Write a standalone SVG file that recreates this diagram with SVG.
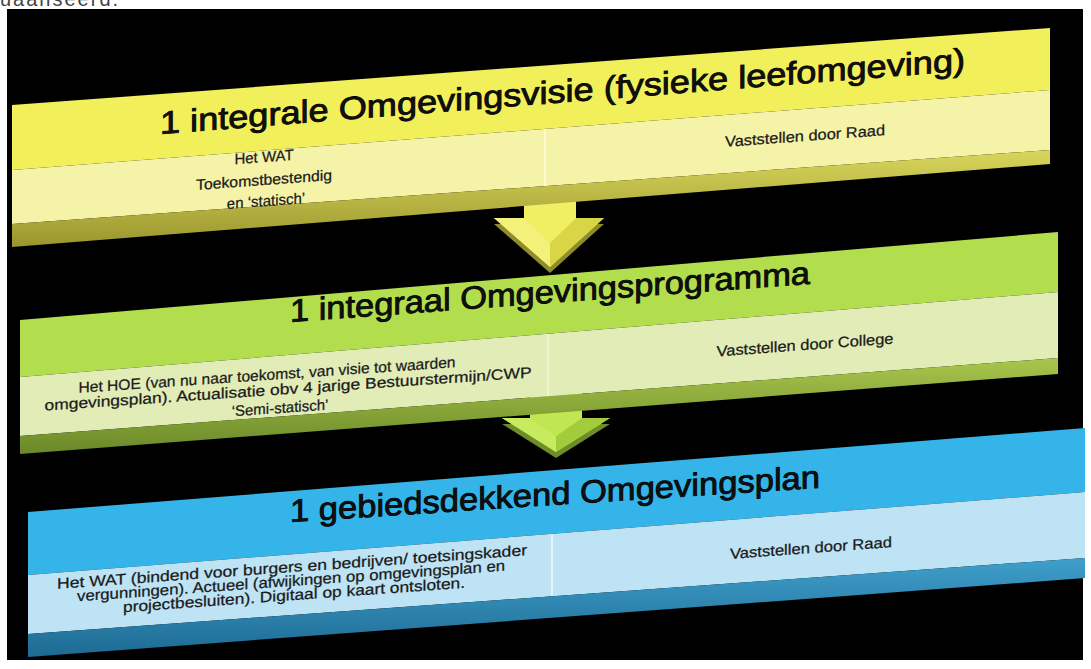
<svg xmlns="http://www.w3.org/2000/svg" width="1091" height="669" viewBox="0 0 1091 669">
  <defs>
    <linearGradient id="gYd" x1="0" y1="0" x2="0" y2="1"><stop offset="0" stop-color="#d9d65c"/><stop offset="1" stop-color="#9a962e"/></linearGradient>
    <linearGradient id="gGd" x1="0" y1="0" x2="0" y2="1"><stop offset="0" stop-color="#a9c64c"/><stop offset="1" stop-color="#6a8828"/></linearGradient>
    <linearGradient id="gBd" x1="0" y1="0" x2="0" y2="1"><stop offset="0" stop-color="#3f9fcb"/><stop offset="1" stop-color="#1d6a92"/></linearGradient>
  </defs>
  <style>
    .t { font-family: "Liberation Sans", Arial, sans-serif; fill: #111; }
    .title { font-size: 32px; stroke: #000; stroke-width: 0.8px; }
    .small { font-size: 15px; text-anchor: middle; fill: #1a1a1a; stroke: #1a1a1a; stroke-width: 0.25px; }
    .div { stroke-width: 2; }
  </style>

  <text x="0" y="6" class="t" style="font-size:20px;letter-spacing:2px;fill:#444">uaanseerd.</text>
  <rect x="7" y="9" width="1076" height="651" fill="#000"/>

  <g id="connectors">
    <g id="arrow1">
      <polygon points="524,198 576,198 576,224 604,224 550,273 494,224 524,224" fill="#8f8c2a"/>
      <polygon points="524,192 576,192 576,218 604,218 550,267 494,218 524,218" fill="#ecea55"/>
      <polygon points="494,218 524,218 550,243 550,267" fill="#f3f17a"/>
      <polygon points="604,218 576,218 550,243 550,267" fill="#d8d646"/>
      <polygon points="524,192 576,192 576,218 550,243 524,218" fill="#f0ee62"/>
    </g>
    <g id="arrow2">
      <polygon points="530,391 582,391 582,424 610,424 556,458 502,424 530,424" fill="#6f8c2a"/>
      <polygon points="530,385 582,385 582,418 610,418 556,452 502,418 530,418" fill="#b6e046"/>
      <polygon points="502,418 530,418 556,436 556,452" fill="#c8ea5e"/>
      <polygon points="610,418 582,418 556,436 556,452" fill="#a2cc3c"/>
      <polygon points="530,385 582,385 582,418 556,436 530,418" fill="#c0e652"/>
    </g>
  </g>

  <g id="slab-visie">
    <polygon points="12,105 1050,28 1050,90 12,170" fill="#f1ef5a"/>
    <polygon points="12,170 1050,90 1050,150 12,224" fill="#f5f3a8"/>
    <polygon points="12,224 1050,150 1050,164 12,247" fill="url(#gYd)"/>
    <line x1="545" y1="129" x2="545" y2="186" stroke="#fbfad0" class="div"/>
    <text class="t title" transform="translate(160,134) skewY(-4.5)" textLength="805" lengthAdjust="spacingAndGlyphs">1 integrale Omgevingsvisie (fysieke leefomgeving)</text>
    <text class="t small" transform="translate(264,162) skewY(-4.2)">Het WAT</text>
    <text class="t small" transform="translate(264,185) skewY(-4.2)" textLength="136" lengthAdjust="spacingAndGlyphs">Toekomstbestendig</text>
    <text class="t small" transform="translate(266,206) skewY(-4.2)">en ‘statisch’</text>
    <text class="t small" transform="translate(805,141) skewY(-4.2)" textLength="160" lengthAdjust="spacingAndGlyphs">Vaststellen door Raad</text>
  </g>

  <g id="slab-programma">
    <polygon points="20,320 1058,232 1058,292 20,377" fill="#b2dd4c"/>
    <polygon points="20,377 1058,292 1058,358 20,436" fill="#e1ecb7"/>
    <polygon points="20,436 1058,358 1058,374 20,454" fill="url(#gGd)"/>
    <line x1="548" y1="334" x2="548" y2="396" stroke="#eef5d4" class="div"/>
    <text class="t title" transform="translate(290,322) skewY(-4.2)" textLength="520" lengthAdjust="spacingAndGlyphs">1 integraal Omgevingsprogramma</text>
    <text class="t small" transform="translate(267,380) skewY(-3.9)" textLength="377" lengthAdjust="spacingAndGlyphs">Het HOE (van nu naar toekomst, van visie tot waarden</text>
    <text class="t small" transform="translate(288,394) skewY(-3.9)" textLength="487" lengthAdjust="spacingAndGlyphs">omgevingsplan).  Actualisatie obv 4 jarige Bestuurstermijn/CWP</text>
    <text class="t small" transform="translate(280,413) skewY(-3.9)">‘Semi-statisch’</text>
    <text class="t small" transform="translate(805,350) skewY(-4.2)" textLength="177" lengthAdjust="spacingAndGlyphs">Vaststellen door College</text>
  </g>

  <g id="slab-omgevingsplan">
    <polygon points="28,512 1085,428 1085,492 28,575" fill="#34b4e8"/>
    <polygon points="28,575 1085,492 1085,558 28,634" fill="#bde3f4"/>
    <polygon points="28,634 1085,558 1085,578 28,657" fill="url(#gBd)"/>
    <line x1="552" y1="534" x2="552" y2="596" stroke="#e2f3fb" class="div"/>
    <text class="t title" transform="translate(290,522) skewY(-3.7)" textLength="530" lengthAdjust="spacingAndGlyphs">1 gebiedsdekkend Omgevingsplan</text>
    <text class="t small" transform="translate(292,572) skewY(-4.1)" textLength="470" lengthAdjust="spacingAndGlyphs">Het WAT (bindend  voor burgers en bedrijven/  toetsingskader</text>
    <text class="t small" transform="translate(291,586) skewY(-4.1)" textLength="428" lengthAdjust="spacingAndGlyphs">vergunningen).  Actueel (afwijkingen  op omgevingsplan  en</text>
    <text class="t small" transform="translate(294,600) skewY(-4.1)" textLength="342" lengthAdjust="spacingAndGlyphs">projectbesluiten).  Digitaal op kaart ontsloten.</text>
    <text class="t small" transform="translate(811,553) skewY(-4.2)" textLength="162" lengthAdjust="spacingAndGlyphs">Vaststellen door Raad</text>
  </g>
</svg>
